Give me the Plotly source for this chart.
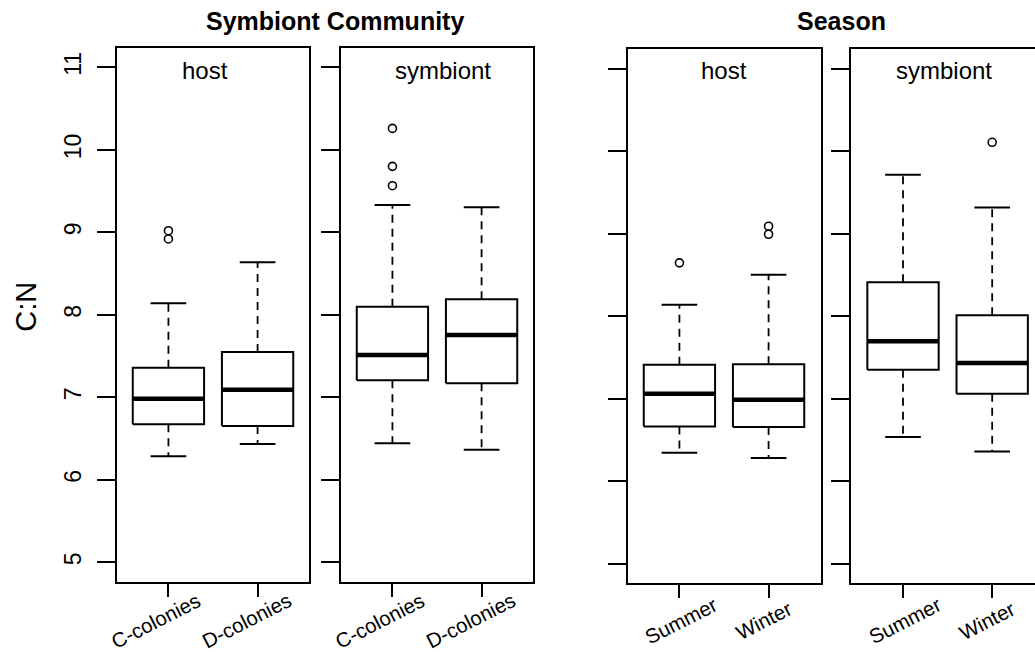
import plotly.graph_objects as go

# ---------------- data ----------------
community_groups = ["C-colonies", "D-colonies"]
season_groups = ["Summer", "Winter"]
panel_labels = ["host", "symbiont", "host", "symbiont"]
y_ticks = [5, 6, 7, 8, 9, 10, 11]

# Symbiont community - host
comm_host_lower = [6.285, 6.434]
comm_host_q1 = [6.673, 6.652]
comm_host_median = [6.983, 7.092]
comm_host_q3 = [7.359, 7.549]
comm_host_upper = [8.139, 8.636]
comm_host_outliers = [[9.02, 8.92], []]

# Symbiont community - symbiont
comm_sym_lower = [6.442, 6.365]
comm_sym_q1 = [7.206, 7.170]
comm_sym_median = [7.513, 7.755]
comm_sym_q3 = [8.098, 8.188]
comm_sym_upper = [9.331, 9.303]
comm_sym_outliers = [[10.26, 9.80, 9.565], []]

# Season - host
season_host_lower = [6.345, 6.280]
season_host_q1 = [6.664, 6.656]
season_host_median = [7.061, 6.988]
season_host_q3 = [7.412, 7.419]
season_host_upper = [8.139, 8.503]
season_host_outliers = [[8.648], [9.092, 8.995]]

# Season - symbiont
season_sym_lower = [6.535, 6.361]
season_sym_q1 = [7.352, 7.061]
season_sym_median = [7.698, 7.432]
season_sym_q3 = [8.413, 8.013]
season_sym_upper = [9.715, 9.319]
season_sym_outliers = [[], [10.11]]

panels = [
    (community_groups, comm_host_lower, comm_host_q1, comm_host_median, comm_host_q3, comm_host_upper, comm_host_outliers),
    (community_groups, comm_sym_lower, comm_sym_q1, comm_sym_median, comm_sym_q3, comm_sym_upper, comm_sym_outliers),
    (season_groups, season_host_lower, season_host_q1, season_host_median, season_host_q3, season_host_upper, season_host_outliers),
    (season_groups, season_sym_lower, season_sym_q1, season_sym_median, season_sym_q3, season_sym_upper, season_sym_outliers),
]

# ---------------- layout geometry ----------------
W, H = 1035, 652
FONT = "Liberation Sans, Arial, Helvetica, sans-serif"


def fx(p):
    return p / W


def fy(p):
    return 1 - p / H


panel_px = [(116.7, 309.3), (340.7, 533.3), (627.7, 820.7), (851.3, 1035.0)]
ydom_px = [(47.7, 581.7), (47.7, 581.7), (49.3, 583.0), (49.3, 583.0)]
units_per_px = 2.16 / 192.6
y_range = [4.765, 11.238]
BOX_HALF = 0.4
CAP_HALF = 0.2
label_text_x = [1.41, 1.564, 1.504, 1.456]
xlabel_shift = [[-12.6, -11.4], [-12.6, -11.4], [1.5, -5.3], [1.5, -5.3]]

fig = go.Figure()
annotations = []
layout = {}

for k, (groups, lo, q1, med, q3, up, outs) in enumerate(panels):
    xa = "x" if k == 0 else f"x{k+1}"
    ya = "y" if k == 0 else f"y{k+1}"
    for i in range(len(groups)):
        c = i + 1
        # box
        fig.add_trace(go.Scatter(
            x=[c - BOX_HALF, c + BOX_HALF, c + BOX_HALF, c - BOX_HALF, c - BOX_HALF],
            y=[q1[i], q1[i], q3[i], q3[i], q1[i]],
            mode="lines", fill="toself", fillcolor="white",
            line=dict(color="black", width=2), xaxis=xa, yaxis=ya,
            hoverinfo="skip", showlegend=False))
        # median
        fig.add_trace(go.Scatter(
            x=[c - BOX_HALF, c + BOX_HALF], y=[med[i], med[i]], mode="lines",
            line=dict(color="black", width=4.5), xaxis=xa, yaxis=ya,
            hoverinfo="skip", showlegend=False))
        # whiskers (dashed)
        fig.add_trace(go.Scatter(
            x=[c, c, None, c, c], y=[q3[i], up[i], None, q1[i], lo[i]], mode="lines",
            line=dict(color="black", width=1.8, dash="8px,6px"), xaxis=xa, yaxis=ya,
            hoverinfo="skip", showlegend=False))
        # caps
        fig.add_trace(go.Scatter(
            x=[c - CAP_HALF, c + CAP_HALF, None, c - CAP_HALF, c + CAP_HALF],
            y=[up[i], up[i], None, lo[i], lo[i]], mode="lines",
            line=dict(color="black", width=2), xaxis=xa, yaxis=ya,
            hoverinfo="skip", showlegend=False))
        # outliers
        if outs[i]:
            fig.add_trace(go.Scatter(
                x=[c] * len(outs[i]), y=outs[i], mode="markers",
                marker=dict(symbol="circle-open", size=8, color="black",
                            line=dict(width=1.6, color="black")),
                xaxis=xa, yaxis=ya, hoverinfo="skip", showlegend=False))
        # rotated category labels
        annotations.append(dict(
            text=groups[i], xref=xa, x=c, xshift=xlabel_shift[k][i],
            yref="paper", y=fy(620), xanchor="center", yanchor="middle",
            textangle=-27, showarrow=False,
            font=dict(family=FONT, size=20.5, color="black")))

    left, right = panel_px[k]
    top, bot = ydom_px[k]
    x0 = 0.42
    layout["xaxis" if k == 0 else f"xaxis{k+1}"] = dict(
        domain=[fx(left), fx(right)], range=[x0, x0 + (right - left) * units_per_px],
        anchor=ya, tickvals=[1, 2], showticklabels=False,
        ticks="outside", ticklen=13, tickwidth=2, tickcolor="black",
        showline=True, linewidth=2, linecolor="black", mirror=True,
        showgrid=False, zeroline=False, fixedrange=True)
    layout["yaxis" if k == 0 else f"yaxis{k+1}"] = dict(
        domain=[fy(bot), fy(top)], range=y_range, anchor=xa,
        tickvals=y_ticks, showticklabels=(k == 0), tickangle=-90,
        tickfont=dict(family=FONT, size=23, color="black"),
        ticklabelstandoff=7,
        ticks="outside", ticklen=18, tickwidth=2, tickcolor="black",
        showline=True, linewidth=2, linecolor="black", mirror=(k != 3),
        showgrid=False, zeroline=False, fixedrange=True)
    # panel label
    annotations.append(dict(
        text=panel_labels[k], xref=xa, x=label_text_x[k], yref="paper", y=fy(70),
        xanchor="center", yanchor="middle", showarrow=False,
        font=dict(family=FONT, size=24, color="black")))

annotations += [
    dict(text="<b>Symbiont Community</b>", xref="paper", yref="paper", x=fx(335), y=fy(21),
         xanchor="center", yanchor="middle", showarrow=False,
         font=dict(family=FONT, size=25, color="black")),
    dict(text="<b>Season</b>", xref="paper", yref="paper", x=fx(841.7), y=fy(21),
         xanchor="center", yanchor="middle", showarrow=False,
         font=dict(family=FONT, size=25, color="black")),
    dict(text="C:N", xref="paper", yref="paper", x=fx(26), y=fy(306.7),
         xanchor="center", yanchor="middle", textangle=-90, showarrow=False,
         font=dict(family=FONT, size=29, color="black")),
]

fig.update_layout(
    width=W, height=H, margin=dict(l=0, r=0, t=0, b=0),
    paper_bgcolor="white", plot_bgcolor="white",
    annotations=annotations, showlegend=False, **layout)

fig.write_html("out.html")
